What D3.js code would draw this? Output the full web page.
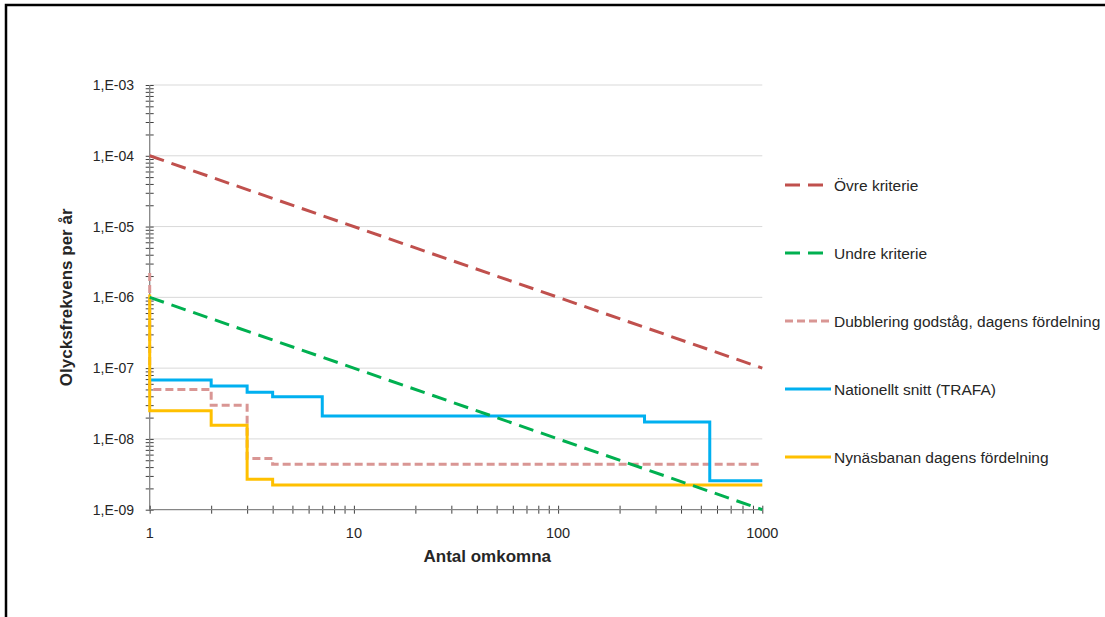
<!DOCTYPE html>
<html>
<head>
<meta charset="utf-8">
<script src="https://cdn.jsdelivr.net/npm/d3@7"></script>
<style>
  html, body { margin: 0; padding: 0; background: #fff; }
  svg { display: block; }
  text { font-family: "Liberation Sans", Arial, sans-serif; fill: #262626; }
</style>
</head>
<body>
<svg id="chart" width="1105" height="617"></svg>
<script>
// F/N-kurvor: olycksfrekvens per år mot antal omkomna
const yTickValues = [1e-3, 1e-4, 1e-5, 1e-6, 1e-7, 1e-8, 1e-9];
const yTickLabels = ["1,E-03", "1,E-04", "1,E-05", "1,E-06", "1,E-07", "1,E-08", "1,E-09"];
const xTickValues = [1, 10, 100, 1000];
const xTickLabels = ["1", "10", "100", "1000"];

// Kriterielinjer
const ovreN = [1, 1000];
const ovreF = [1e-4, 1e-7];
const undreN = [1, 1000];
const undreF = [1e-6, 1e-9];

// Trappstegskurvor (värdet gäller från N till nästa N)
const dubbN = [1, 1, 2, 3, 4, 1000];
const dubbF = [2.2e-6, 5.0e-8, 3.0e-8, 5.3e-9, 4.4e-9, 4.4e-9];
const trafaN = [1, 2, 3, 4, 7, 265, 553, 1000];
const trafaF = [6.8e-8, 5.6e-8, 4.55e-8, 3.95e-8, 2.1e-8, 1.73e-8, 2.57e-9, 2.57e-9];
const nynasN = [1, 1, 2, 3, 4, 1000];
const nynasF = [1.1e-6, 2.5e-8, 1.56e-8, 2.69e-9, 2.23e-9, 2.23e-9];

const seriesNames = [
  "Övre kriterie",
  "Undre kriterie",
  "Dubblering godståg, dagens fördelning",
  "Nationellt snitt (TRAFA)",
  "Nynäsbanan dagens fördelning"
];

const svg = d3.select("#chart");

// ram runt diagrammet
svg.append("path")
  .attr("d", "M6,640 L6,5 L1120,5")
  .attr("fill", "none")
  .attr("stroke", "#000")
  .attr("stroke-width", 2.5);

const plot = { left: 149.7, right: 762.3, top: 85, bottom: 509.7 };

const x = d3.scaleLog().domain([1, 1000]).range([plot.left, plot.right]);
const y = d3.scaleLog().domain([1e-9, 1e-3]).range([plot.bottom, plot.top]);

// horisontella stödlinjer
svg.append("g")
  .selectAll("line")
  .data(yTickValues.slice(0, -1))
  .join("line")
  .attr("x1", plot.left).attr("x2", plot.right)
  .attr("y1", d => y(d)).attr("y2", d => y(d))
  .attr("stroke", "#d9d9d9")
  .attr("stroke-width", 1);

// mindre skalstreck (1..9 per dekad)
const minor = [];
for (let e = -9; e < -3; e++) for (let m = 1; m <= 9; m++) minor.push(m * Math.pow(10, e));
minor.push(1e-3);
const minorX = [];
for (let e = 0; e < 3; e++) for (let m = 1; m <= 9; m++) minorX.push(m * Math.pow(10, e));
minorX.push(1000);

// y-axel
const yAxis = d3.axisLeft(y)
  .tickValues(minor)
  .tickSize(0)
  .tickFormat("");
const gy = svg.append("g").attr("transform", `translate(${plot.left},0)`).call(yAxis);
gy.select(".domain").remove();
gy.selectAll(".tick").append("line")
  .attr("x1", -4).attr("x2", 4)
  .attr("stroke", "#404040").attr("stroke-width", 1);
svg.append("line")
  .attr("x1", plot.left).attr("x2", plot.left)
  .attr("y1", plot.top).attr("y2", plot.bottom)
  .attr("stroke", "#868686").attr("stroke-width", 1.3);

svg.append("g")
  .selectAll("text")
  .data(yTickValues)
  .join("text")
  .attr("x", 134)
  .attr("y", d => y(d))
  .attr("dy", "0.36em")
  .attr("text-anchor", "end")
  .attr("font-size", 14)
  .text((d, i) => yTickLabels[i]);

// x-axel
const xAxis = d3.axisBottom(x)
  .tickValues(minorX)
  .tickSize(0)
  .tickFormat("");
const gx = svg.append("g").attr("transform", `translate(0,${plot.bottom})`).call(xAxis);
gx.select(".domain").remove();
gx.selectAll(".tick").append("line")
  .attr("y1", -4).attr("y2", 4)
  .attr("stroke", "#404040").attr("stroke-width", 1);
svg.append("line")
  .attr("x1", plot.left).attr("x2", plot.right)
  .attr("y1", plot.bottom).attr("y2", plot.bottom)
  .attr("stroke", "#868686").attr("stroke-width", 1.3);

svg.append("g")
  .selectAll("text")
  .data(xTickValues)
  .join("text")
  .attr("x", d => x(d))
  .attr("y", 538)
  .attr("text-anchor", "middle")
  .attr("font-size", 14.5)
  .text((d, i) => xTickLabels[i]);

// axeltitlar
svg.append("text")
  .attr("x", 551)
  .attr("y", 562)
  .attr("text-anchor", "end")
  .attr("font-size", 17)
  .attr("font-weight", "bold")
  .text("Antal omkomna");

svg.append("text")
  .attr("transform", `translate(72,${(plot.top + plot.bottom) / 2}) rotate(-90)`)
  .attr("text-anchor", "middle")
  .attr("font-size", 17)
  .attr("font-weight", "bold")
  .text("Olycksfrekvens per år");

// serier
const styles = [
  { color: "#c0504d", dash: "15,8" },
  { color: "#00b050", dash: "15,8" },
  { color: "#d99694", dash: "8,4" },
  { color: "#00b0f0", dash: null },
  { color: "#ffc000", dash: null }
];

const toPts = (ns, fs) => ns.map((n, i) => [n, fs[i]]);
const stepLine = d3.line().x(d => x(d[0])).y(d => y(d[1])).curve(d3.curveStepAfter);
const straight = d3.line().x(d => x(d[0])).y(d => y(d[1]));

const series = [
  { pts: toPts(ovreN, ovreF), gen: straight, s: styles[0] },
  { pts: toPts(undreN, undreF), gen: straight, s: styles[1] },
  { pts: toPts(dubbN, dubbF), gen: stepLine, s: styles[2] },
  { pts: toPts(trafaN, trafaF), gen: stepLine, s: styles[3] },
  { pts: toPts(nynasN, nynasF), gen: stepLine, s: styles[4] }
];

// trappsteg först, kriterielinjerna överst
const drawOrder = [2, 3, 4, 0, 1];
const gLines = svg.append("g");
drawOrder.forEach(i => {
  const sr = series[i];
  gLines.append("path")
    .attr("d", sr.gen(sr.pts))
    .attr("fill", "none")
    .attr("stroke", sr.s.color)
    .attr("stroke-width", 3)
    .attr("stroke-dasharray", sr.s.dash)
    .attr("stroke-linejoin", "miter");
});

// förklaring
const legend = svg.append("g");
const legendY = [185, 253, 321, 389, 457];
seriesNames.forEach((name, i) => {
  legend.append("line")
    .attr("x1", 785).attr("x2", 831)
    .attr("y1", legendY[i]).attr("y2", legendY[i])
    .attr("stroke", styles[i].color)
    .attr("stroke-width", 3)
    .attr("stroke-dasharray", styles[i].dash);
  legend.append("text")
    .attr("x", 834)
    .attr("y", legendY[i])
    .attr("dy", "0.36em")
    .attr("font-size", 15.5)
    .text(name);
});
</script>
</body>
</html>
